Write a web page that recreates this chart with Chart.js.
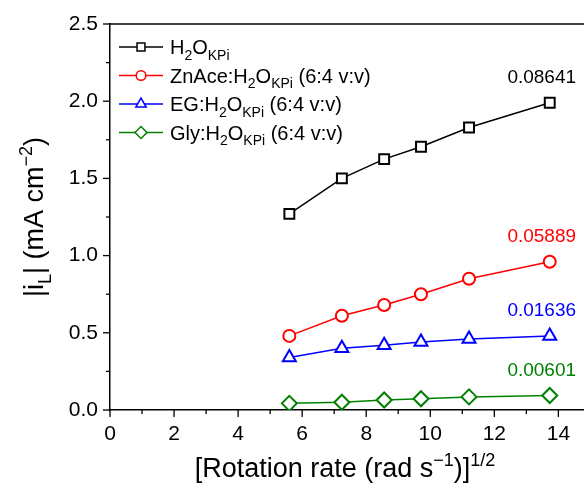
<!DOCTYPE html>
<html>
<head>
<meta charset="utf-8">
<script src="https://cdn.jsdelivr.net/npm/chart.js"></script>
<style>
  body { margin: 0; background: #fff; }
</style>
</head>
<body>
<canvas id="myChart" width="584" height="486"></canvas>
<script>
// sqrt of rotation rate (rad/s), 300..1800 rpm
const xValues = [5.60, 7.24, 8.56, 9.71, 11.21, 13.73];
const h2oValues = [1.27, 1.50, 1.625, 1.705, 1.83, 1.99];
const znaceValues = [0.48, 0.61, 0.68, 0.75, 0.85, 0.96];
const egValues = [0.34, 0.40, 0.42, 0.44, 0.46, 0.48];
const glyValues = [0.043, 0.05, 0.065, 0.073, 0.085, 0.094];
const slopeLabels = ['0.08641', '0.05889', '0.01636', '0.00601'];
const xTickValues = [0, 1, 2, 3, 4, 5, 6, 7, 8, 9, 10, 11, 12, 13, 14];

const FONT = '"Liberation Sans", Arial, sans-serif';

// legend labels as rich text pieces: [text, 'n' | 'sub' | 'sup']
const legendLabels = [
  [['H', 'n'], ['2', 'sub'], ['O', 'n'], ['KPi', 'sub']],
  [['ZnAce:H', 'n'], ['2', 'sub'], ['O', 'n'], ['KPi', 'sub'], [' (6:4 v:v)', 'n']],
  [['EG:H', 'n'], ['2', 'sub'], ['O', 'n'], ['KPi', 'sub'], [' (6:4 v:v)', 'n']],
  [['Gly:H', 'n'], ['2', 'sub'], ['O', 'n'], ['KPi', 'sub'], [' (6:4 v:v)', 'n']]
];
const yTitle = [['|i', 'n'], ['L', 'sub'], ['| (mA cm', 'n'], ['\u22122', 'sup'], [')', 'n']];
const xTitle = [['[Rotation rate (rad s', 'n'], ['\u22121', 'sup'], [')]', 'n'], ['1/2', 'sup']];

function richWidth(ctx, parts, size) {
  let w = 0;
  parts.forEach(p => {
    ctx.font = (p[1] === 'n' ? size : Math.round(size * 0.68)) + 'px ' + FONT;
    w += ctx.measureText(p[0]).width;
  });
  return w;
}
function drawRich(ctx, parts, x, y, size) {
  ctx.textBaseline = 'alphabetic';
  ctx.textAlign = 'left';
  parts.forEach(p => {
    let s = size, dy = 0;
    if (p[1] === 'sub') { s = Math.round(size * 0.68); dy = size * 0.28; }
    if (p[1] === 'sup') { s = Math.round(size * 0.68); dy = -size * 0.42; }
    ctx.font = s + 'px ' + FONT;
    ctx.fillText(p[0], x, y + dy);
    x += ctx.measureText(p[0]).width;
  });
}

const extras = {
  id: 'extras',
  afterDraw(chart) {
    const ctx = chart.ctx;
    const area = chart.chartArea;
    const xs = chart.scales.x, ys = chart.scales.y;
    ctx.save();
    ctx.strokeStyle = '#000';
    ctx.lineWidth = 1.5;
    // top frame line
    ctx.beginPath();
    ctx.moveTo(area.left, area.top);
    ctx.lineTo(chart.width, area.top);
    ctx.stroke();
    // tick marks, major and minor
    ctx.lineWidth = 1.3;
    xs.ticks.forEach(t => {
      const px = xs.getPixelForValue(t.value);
      const len = (Math.round(t.value) % 2 === 0) ? 7 : 4;
      ctx.beginPath();
      ctx.moveTo(px, area.bottom);
      ctx.lineTo(px, area.bottom + len);
      ctx.stroke();
    });
    ys.ticks.forEach(t => {
      const py = ys.getPixelForValue(t.value);
      const len = (Math.round(t.value * 100) % 50 === 0) ? 7 : 4;
      ctx.beginPath();
      ctx.moveTo(area.left, py);
      ctx.lineTo(area.left - len, py);
      ctx.stroke();
    });

    // axis titles
    ctx.fillStyle = '#000';
    const xw = richWidth(ctx, xTitle, 27);
    drawRich(ctx, xTitle, 345 - xw / 2, 477, 27);
    ctx.save();
    ctx.translate(43, 217);
    ctx.rotate(-Math.PI / 2);
    const yw = richWidth(ctx, yTitle, 27);
    drawRich(ctx, yTitle, -yw / 2, 0, 27);
    ctx.restore();

    // legend
    chart.data.datasets.forEach((ds, i) => {
      const ly = 47 + i * 28.5;
      ctx.strokeStyle = ds.borderColor;
      ctx.lineWidth = 1.5;
      ctx.beginPath();
      ctx.moveTo(119, ly);
      ctx.lineTo(163, ly);
      ctx.stroke();
      ctx.fillStyle = '#fff';
      Chart.helpers.drawPoint(ctx, {
        pointStyle: ds.pointStyle, radius: ds.pointRadius * 0.8,
        borderWidth: ds.pointBorderWidth, rotation: 0
      }, 141, ly);
      ctx.fillStyle = '#000';
      drawRich(ctx, legendLabels[i], 170, ly + 7, 20);
    });

    // slope annotations above last point of each series
    chart.data.datasets.forEach((ds, i) => {
      const last = ds.data[ds.data.length - 1];
      const px = xs.getPixelForValue(last.x) - 8;
      const py = ys.getPixelForValue(last.y) - 25;
      ctx.fillStyle = ds.borderColor;
      ctx.font = '19px ' + FONT;
      ctx.textAlign = 'center';
      ctx.textBaseline = 'middle';
      ctx.fillText(slopeLabels[i], px, py);
    });
    ctx.restore();
  }
};

function pts(ys) { return xValues.map((x, i) => ({ x: x, y: ys[i] })); }
function series(label, ys, color, style, r) {
  return {
    label: label, data: pts(ys), showLine: true,
    borderColor: color, backgroundColor: '#fff', borderWidth: 1.5,
    pointStyle: style, pointRadius: r, pointHoverRadius: r,
    pointBorderWidth: 2, pointBackgroundColor: '#fff', pointBorderColor: color
  };
}

new Chart('myChart', {
  type: 'scatter',
  data: {
    datasets: [
      series('H2O KPi', h2oValues, '#000000', 'rect', 7),
      series('ZnAce:H2O KPi (6:4 v:v)', znaceValues, '#ff0000', 'circle', 6),
      series('EG:H2O KPi (6:4 v:v)', egValues, '#0000ff', 'triangle', 7.5),
      series('Gly:H2O KPi (6:4 v:v)', glyValues, '#008000', 'rectRot', 7.5)
    ]
  },
  options: {
    responsive: false,
    animation: false,
    layout: { autoPadding: false, padding: { top: 24, right: 0, left: 0, bottom: 0 } },
    plugins: { legend: { display: false }, tooltip: { enabled: false } },
    scales: {
      x: {
        type: 'linear', min: 0, max: 14.8,
        afterBuildTicks: s => { s.ticks = xTickValues.map(v => ({ value: v })); },
        afterFit: s => { s.height = 76; s.paddingRight = 0; s.paddingLeft = 0; },
        ticks: {
          color: '#000', padding: 12, maxRotation: 0, autoSkip: false,
          font: { family: FONT, size: 21 },
          callback: v => (Math.round(v) % 2 === 0 ? String(v) : '')
        },
        grid: { display: true, drawOnChartArea: false, drawTicks: false },
        border: { display: true, color: '#000', width: 1.5 }
      },
      y: {
        min: 0, max: 2.5,
        afterFit: s => { s.width = 110; s.paddingTop = 0; s.paddingBottom = 0; },
        ticks: {
          stepSize: 0.25, color: '#000', padding: 12, autoSkip: false,
          font: { family: FONT, size: 21 },
          callback: v => (Math.round(v * 100) % 50 === 0 ? v.toFixed(1) : '')
        },
        grid: { display: true, drawOnChartArea: false, drawTicks: false },
        border: { display: true, color: '#000', width: 1.5 }
      }
    }
  },
  plugins: [extras]
});
</script>
</body>
</html>
